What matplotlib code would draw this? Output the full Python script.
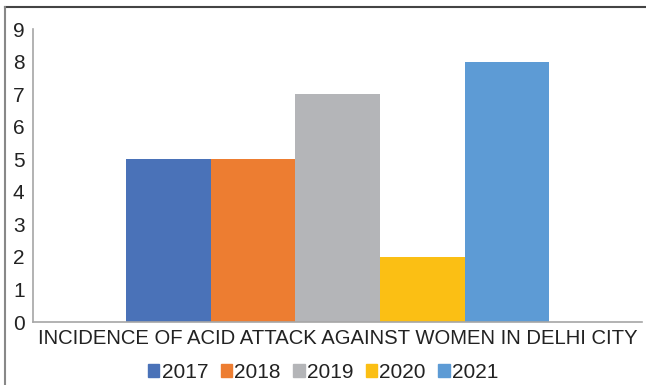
import matplotlib.pyplot as plt
from matplotlib.lines import Line2D
from matplotlib.patches import Patch

plt.rcParams['font.family'] = ['Liberation Sans', 'DejaVu Sans']

category = "INCIDENCE OF ACID ATTACK AGAINST WOMEN IN DELHI CITY"
years = ['2017', '2018', '2019', '2020', '2021']
values = [5, 5, 7, 2, 8]
colors = ['#4a72b8', '#ed7d31', '#b4b5b8', '#fbbf14', '#5d9bd5']

fig = plt.figure(figsize=(6.46, 3.85), dpi=100)
ax = fig.add_axes([0.051, 0.1636, 0.943, 0.761])

w = 0.139
n = len(years)
for i, (yr, v, c) in enumerate(zip(years, values, colors)):
    ax.bar((i - (n - 1) / 2) * w, v, width=w, color=c, label=yr)

ax.set_xlim(-0.5, 0.5)
ax.set_ylim(0, 9)
ax.set_yticks(range(10))
ax.set_xticks([0])
ax.set_xticklabels([category])
ax.tick_params(axis='both', length=0, colors='#222222')
ax.tick_params(axis='y', labelsize=15, pad=6)
ax.tick_params(axis='x', labelsize=14.6, pad=5)
for s in ['top', 'right']:
    ax.spines[s].set_visible(False)
for s in ['left', 'bottom']:
    ax.spines[s].set_color('#a6a6a6')
    ax.spines[s].set_linewidth(1.2)

handles = [Patch(color=c) for c in colors]
fig.legend(handles, years, loc='center', bbox_to_anchor=(0.5, 0.033), ncol=5,
           frameon=False, fontsize=15, handlelength=0.55, handleheight=0.55,
           handletextpad=0.1, columnspacing=0.6, labelcolor='#222222')

# outer frame (top and left edges visible)
fig.add_artist(Line2D([5 / 646, 1], [1 - 7 / 385, 1 - 7 / 385], color='#444444', lw=1.5,
                      transform=fig.transFigure))
fig.add_artist(Line2D([5 / 646, 5 / 646], [0, 1 - 7 / 385], color='#888888', lw=1.5,
                      transform=fig.transFigure))

fig.savefig('out.png', dpi=100)
